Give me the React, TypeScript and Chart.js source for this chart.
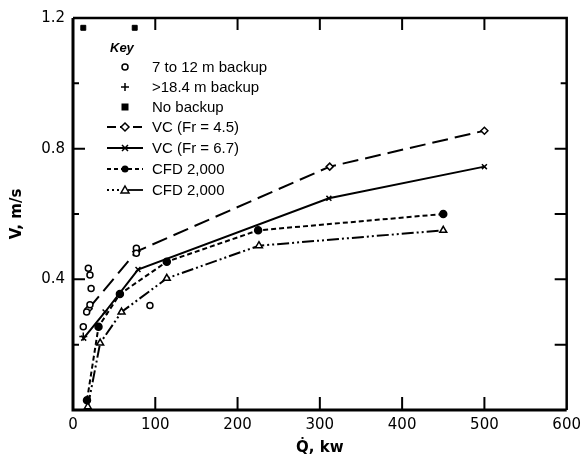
import React, { useEffect, useRef } from 'react';
import { Chart, registerables } from 'chart.js';

Chart.register(...registerables);

// ---- data ----
const xTickValues = [0, 100, 200, 300, 400, 500, 600];
const yLabelledTicks = [0.4, 0.8, 1.2];

const backup7to12X = [18.6, 20.6, 22, 20.6, 16.6, 12.5, 93.5, 77, 77];
const backup7to12Y = [0.434, 0.413, 0.372, 0.322, 0.3, 0.255, 0.32, 0.495, 0.48];

const backup18X = [12.5];
const backup18Y = [0.225];

const noBackupX = [12.5, 75];
const noBackupY = [1.17, 1.17];

const vc45X = [19, 77, 312, 500];
const vc45Y = [0.31, 0.485, 0.745, 0.855];

const vc67X = [13, 39, 79, 311, 500];
const vc67Y = [0.22, 0.3, 0.43, 0.648, 0.745];

const cfdAX = [17, 31, 57, 114, 225, 450];
const cfdAY = [0.03, 0.255, 0.355, 0.454, 0.55, 0.6];

const cfdBX = [18, 33, 59, 114, 226, 450];
const cfdBY = [0.01, 0.205, 0.3, 0.403, 0.503, 0.55];

const legendLabels = [
  '7 to 12 m backup',
  '>18.4 m backup',
  'No backup',
  'VC (Fr = 4.5)',
  'VC (Fr = 6.7)',
  'CFD 2,000',
  'CFD 2,000',
];

const pts = (xs: number[], ys: number[]) => xs.map((x, i) => ({ x, y: ys[i] }));

const FONT = 'DejaVu Sans';
const LFONT = 'Liberation Sans';

function drawMarker(ctx: CanvasRenderingContext2D, kind: string, x: number, y: number) {
  ctx.save();
  ctx.strokeStyle = '#000';
  ctx.fillStyle = '#000';
  ctx.lineWidth = 1.5;
  ctx.setLineDash([]);
  ctx.beginPath();
  if (kind === 'ocircle') {
    ctx.arc(x, y, 3, 0, Math.PI * 2);
    ctx.fillStyle = '#fff';
    ctx.fill();
    ctx.stroke();
  } else if (kind === 'plus') {
    ctx.moveTo(x - 4, y); ctx.lineTo(x + 4, y);
    ctx.moveTo(x, y - 4); ctx.lineTo(x, y + 4);
    ctx.stroke();
  } else if (kind === 'square') {
    ctx.fillRect(x - 3.5, y - 3.5, 7, 7);
  } else if (kind === 'diamond') {
    ctx.moveTo(x, y - 4); ctx.lineTo(x + 4, y); ctx.lineTo(x, y + 4); ctx.lineTo(x - 4, y); ctx.closePath();
    ctx.fillStyle = '#fff';
    ctx.fill();
    ctx.stroke();
  } else if (kind === 'x') {
    ctx.moveTo(x - 3, y - 3); ctx.lineTo(x + 3, y + 3);
    ctx.moveTo(x + 3, y - 3); ctx.lineTo(x - 3, y + 3);
    ctx.stroke();
  } else if (kind === 'fcircle') {
    ctx.arc(x, y, 3.5, 0, Math.PI * 2);
    ctx.fill();
  } else if (kind === 'triangle') {
    ctx.moveTo(x, y - 4); ctx.lineTo(x + 4, y + 3); ctx.lineTo(x - 4, y + 3); ctx.closePath();
    ctx.fillStyle = '#fff';
    ctx.fill();
    ctx.stroke();
  }
  ctx.restore();
}

const framePlugin = {
  id: 'frameAndTicks',
  afterDraw(chart: any) {
    const ctx: CanvasRenderingContext2D = chart.ctx;
    const { left, right, top, bottom } = chart.chartArea;
    const xs = chart.scales.x;
    const ys = chart.scales.y;
    ctx.save();
    ctx.strokeStyle = '#000';
    ctx.setLineDash([]);
    // inward ticks
    ctx.lineWidth = 2;
    for (const v of [100, 200, 300, 400, 500]) {
      const px = xs.getPixelForValue(v);
      ctx.beginPath();
      ctx.moveTo(px, bottom); ctx.lineTo(px, bottom - 13);
      ctx.moveTo(px, top); ctx.lineTo(px, top + 12);
      ctx.stroke();
    }
    for (const v of [0.2, 0.4, 0.6, 0.8, 1.0]) {
      const py = ys.getPixelForValue(v);
      const major = Math.abs(v - 0.4) < 1e-6 || Math.abs(v - 0.8) < 1e-6;
      const lenL = major ? 12 : 6;
      const lenR = Math.abs(v - 1.0) < 1e-6 ? 6 : 12;
      ctx.beginPath();
      ctx.moveTo(left, py); ctx.lineTo(left + lenL, py);
      ctx.moveTo(right, py); ctx.lineTo(right - lenR, py);
      ctx.stroke();
    }
    // frame
    ctx.lineWidth = 3;
    ctx.beginPath();
    ctx.moveTo(left, top); ctx.lineTo(left, bottom); ctx.lineTo(right, bottom);
    ctx.stroke();
    ctx.lineWidth = 2.5;
    ctx.beginPath();
    ctx.moveTo(left, top); ctx.lineTo(right, top); ctx.lineTo(right, bottom);
    ctx.stroke();

    // key / legend
    ctx.fillStyle = '#000';
    ctx.textBaseline = 'middle';
    ctx.textAlign = 'left';
    ctx.font = `italic bold 13px ${LFONT}`;
    ctx.fillText('Key', 110, 48);
    ctx.font = `15px ${LFONT}`;
    const rowY = [67, 87, 107, 127, 148, 169, 190];
    const markers = ['ocircle', 'plus', 'square', 'diamond', 'x', 'fcircle', 'triangle'];
    const dashes: (number[] | null)[] = [null, null, null, [9, 4], [], [4, 3], [2, 3, 2, 3]];
    const mx = 125;
    for (let i = 0; i < legendLabels.length; i++) {
      const y = rowY[i];
      const d = dashes[i];
      if (d) {
        ctx.save();
        ctx.lineWidth = 1.8;
        ctx.setLineDash(d);
        ctx.beginPath();
        if (i === 6) {
          ctx.moveTo(107, y); ctx.lineTo(122, y);
          ctx.stroke();
          ctx.setLineDash([]);
          ctx.beginPath();
          ctx.moveTo(128, y); ctx.lineTo(143, y);
        } else {
          ctx.moveTo(107, y); ctx.lineTo(143, y);
        }
        ctx.stroke();
        ctx.restore();
      }
      drawMarker(ctx, markers[i], mx, y);
      ctx.fillStyle = '#000';
      ctx.fillText(legendLabels[i], 152, y + 1);
    }
    ctx.restore();
  },
};

export default function App() {
  const ref = useRef<HTMLCanvasElement | null>(null);

  useEffect(() => {
    if (!ref.current) return;
    const lineDs = (label: string, xs: number[], ys: number[], dash: number[], style: any, radius: number, fill: string) => ({
      label,
      data: pts(xs, ys),
      showLine: true,
      borderColor: '#000',
      borderWidth: 2,
      borderDash: dash,
      pointStyle: style,
      pointRadius: radius,
      pointBackgroundColor: fill,
      pointBorderColor: '#000',
      pointBorderWidth: 1.5,
      tension: 0,
    });
    const chart = new Chart(ref.current, {
      type: 'scatter',
      data: {
        datasets: [
          {
            label: legendLabels[0],
            data: pts(backup7to12X, backup7to12Y),
            pointStyle: 'circle',
            pointRadius: 3,
            pointBackgroundColor: '#fff',
            pointBorderColor: '#000',
            pointBorderWidth: 1.5,
          },
          {
            label: legendLabels[1],
            data: pts(backup18X, backup18Y),
            pointStyle: 'cross',
            pointRadius: 4,
            pointBorderColor: '#000',
            pointBorderWidth: 1.5,
          },
          {
            label: legendLabels[2],
            data: pts(noBackupX, noBackupY),
            pointStyle: 'rect',
            pointRadius: 3.5,
            pointBackgroundColor: '#000',
            pointBorderColor: '#000',
            pointBorderWidth: 1,
          },
          lineDs(legendLabels[3], vc45X, vc45Y, [16, 7], 'rectRot', 3.5, '#fff'),
          lineDs(legendLabels[4], vc67X, vc67Y, [], 'crossRot', 3.5, '#000'),
          lineDs(legendLabels[5], cfdAX, cfdAY, [5, 3], 'circle', 3.5, '#000'),
          lineDs(legendLabels[6], cfdBX, cfdBY, [12, 3, 2, 3, 2, 3], 'triangle', 4, '#fff'),
        ] as any,
      },
      options: {
        animation: false,
        responsive: true,
        maintainAspectRatio: false,
        layout: { padding: { left: 0, right: 20, top: 18, bottom: 0 } },
        plugins: { legend: { display: false }, tooltip: { enabled: false } },
        elements: { line: { borderCapStyle: 'butt' } },
        scales: {
          x: {
            type: 'linear',
            min: 0,
            max: 600,
            afterFit: (s: any) => { s.height = 47; },
            afterBuildTicks: (s: any) => { s.ticks = xTickValues.map((v) => ({ value: v })); },
            grid: { display: false, drawTicks: false },
            border: { display: false },
            ticks: {
              color: '#000',
              padding: 6,
              font: { family: FONT, size: 15 },
              callback: (v: any) => String(v),
            },
            title: {
              display: true,
              text: 'Q\u0307, kw',
              color: '#000',
              font: { family: FONT, size: 15, weight: 'bold' },
              padding: { top: 0, bottom: 0 },
            },
          },
          y: {
            type: 'linear',
            min: 0,
            max: 1.2,
            afterFit: (s: any) => { s.width = 73; },
            afterBuildTicks: (s: any) => { s.ticks = yLabelledTicks.map((v) => ({ value: v })); },
            grid: { display: false, drawTicks: false },
            border: { display: false },
            ticks: {
              color: '#000',
              padding: 8,
              font: { family: FONT, size: 15 },
              callback: (v: any) => Number(v).toFixed(1),
            },
            title: {
              display: true,
              text: 'V, m/s',
              color: '#000',
              font: { family: FONT, size: 15, weight: 'bold' },
              padding: { top: 8, bottom: 0 },
            },
          },
        },
      } as any,
      plugins: [framePlugin],
    });
    return () => chart.destroy();
  }, []);

  return (
    <div style={{ position: 'absolute', left: 0, top: 0, width: 587, height: 457, background: '#fff' }}>
      <canvas ref={ref} />
    </div>
  );
}
